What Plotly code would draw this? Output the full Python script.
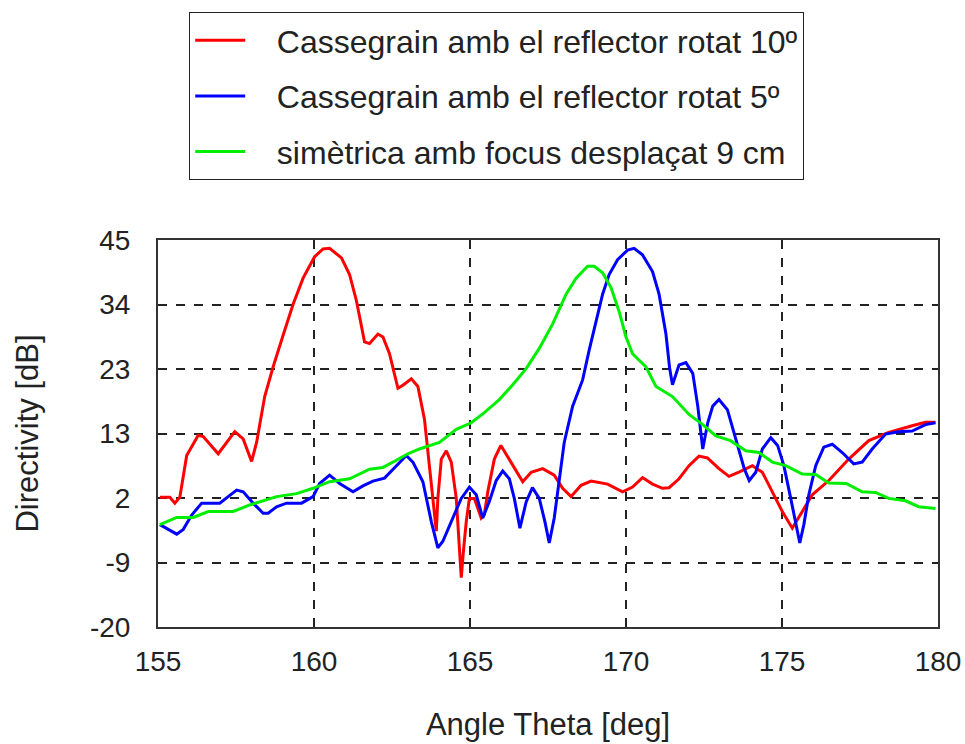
import plotly.graph_objects as go

# ---------------- data ----------------
red_x = [155.06, 155.38, 155.54, 155.7, 155.92, 156.29, 156.45, 156.93, 157.46, 157.73, 158.0, 158.16,
         158.42, 158.69, 159.01, 159.33, 159.65, 160.02, 160.29, 160.5, 160.88, 161.14, 161.36, 161.62,
         161.78, 162.05, 162.21, 162.42, 162.69, 162.85, 163.12, 163.33, 163.54, 163.7, 163.81, 163.92,
         163.97, 164.08, 164.24, 164.4, 164.56, 164.66, 164.72, 164.79, 164.88, 164.98, 165.14, 165.36,
         165.46, 165.57, 165.78, 165.99, 166.26, 166.69, 166.96, 167.33, 167.7, 167.97, 168.24, 168.56,
         168.88, 169.41, 169.89, 170.21, 170.53, 170.85, 171.17, 171.38, 171.7, 172.02, 172.34, 172.61,
         172.98, 173.3, 173.62, 174.05, 174.37, 174.69, 175.01, 175.33, 175.65, 175.97, 176.5, 177.14,
         177.78, 178.42, 179.17, 179.6, 179.92]
red_y = [1.8, 1.8, 0.8, 1.8, 8.8, 12.2, 12.0, 9.1, 12.8, 11.6, 7.8, 11.0,
         18.7, 23.7, 29.0, 34.2, 38.6, 42.2, 43.5, 43.6, 42.0, 39.2, 34.8, 27.9,
         27.6, 29.2, 28.7, 25.9, 20.1, 20.6, 21.7, 20.4, 14.9, 7.1, 1.6, -3.9,
         1.6, 8.2, 9.6, 7.7, 1.6, -6.7, -11.7, -7.2, -2.3, 1.6, 1.6, -1.7,
         -1.1, 2.7, 8.2, 10.5, 8.2, 4.4, 6.0, 6.6, 5.5, 3.3, 1.9, 3.8,
         4.5, 4.0, 2.7, 3.5, 5.1, 4.0, 3.3, 3.4, 4.9, 7.1, 8.7, 8.4,
         6.6, 5.3, 6.0, 7.1, 6.0, 2.7, -0.6, -3.4, -0.6, 2.2, 4.6, 8.2,
         11.3, 12.7, 13.8, 14.4, 14.4]

blue_x = [155.06, 155.6, 155.81, 156.08, 156.4, 156.98, 157.25, 157.52, 157.73, 158.05, 158.37, 158.53,
          158.8, 159.12, 159.6, 159.97, 160.18, 160.5, 160.82, 161.25, 161.57, 161.89, 162.26, 162.64,
          162.96, 163.17, 163.49, 163.76, 163.97, 164.13, 164.45, 164.72, 164.98, 165.2, 165.41, 165.62,
          165.84, 166.05, 166.26, 166.42, 166.6, 166.8, 167.0, 167.22, 167.4, 167.54, 167.7, 167.86,
          168.02, 168.29, 168.61, 168.82, 169.04, 169.25, 169.46, 169.73, 170.05, 170.26, 170.53, 170.85,
          171.06, 171.28, 171.4, 171.49, 171.7, 171.92, 172.14, 172.3, 172.46, 172.62, 172.78, 172.98,
          173.25, 173.52, 173.79, 173.95, 174.16, 174.37, 174.64, 174.86, 175.06, 175.28, 175.44, 175.57,
          175.7, 175.86, 176.08, 176.34, 176.61, 176.93, 177.3, 177.57, 177.89, 178.32, 178.74, 179.17,
          179.6, 179.92]
blue_y = [-2.8, -4.4, -3.6, -1.2, 0.8, 0.8, 1.9, 3.0, 2.7, 0.8, -0.9, -0.9,
          0.2, 0.8, 0.8, 1.9, 4.1, 5.5, 4.1, 2.7, 3.7, 4.5, 5.0, 7.1,
          8.8, 7.7, 4.4, -2.3, -6.7, -5.6, -1.7, 1.6, 3.5, 2.2, -1.7, 1.1,
          4.6, 6.2, 4.9, 1.6, -3.4, 1.0, 3.4, 1.6, -2.3, -5.9, -1.7, 4.9,
          11.0, 17.1, 21.5, 26.5, 31.5, 35.9, 39.2, 41.7, 43.3, 43.6, 42.5, 39.7,
          35.9, 29.2, 23.4, 20.7, 24.0, 24.4, 22.6, 17.1, 9.9, 14.3, 17.1, 18.2,
          16.5, 11.5, 6.6, 4.6, 6.0, 9.9, 11.8, 10.5, 7.1, 1.6, -2.8, -5.9,
          -2.8, 2.2, 7.1, 10.2, 10.7, 9.3, 7.4, 7.7, 9.9, 12.4, 12.8, 12.9,
          14.0, 14.3]

green_x = [155.06, 155.6, 156.13, 156.61, 157.04, 157.41, 157.94, 158.37, 158.8, 159.44, 159.97, 160.5,
           161.14, 161.78, 162.21, 162.64, 163.01, 163.38, 164.02, 164.56, 165.04, 165.46, 165.94, 166.37,
           166.8, 167.22, 167.65, 168.08, 168.4, 168.77, 168.98, 169.25, 169.52, 169.79, 170.0, 170.21,
           170.64, 170.96, 171.28, 171.49, 172.02, 172.46, 172.88, 173.35, 173.84, 174.26, 174.69, 175.12,
           175.65, 176.08, 176.5, 177.06, 177.57, 178.0, 178.42, 178.96, 179.38, 179.92]
green_y = [-2.8, -1.6, -1.6, -0.6, -0.6, -0.6, 0.5, 1.2, 1.9, 2.4, 3.3, 4.4,
           4.9, 6.5, 6.8, 8.0, 9.1, 9.9, 11.0, 13.2, 14.3, 16.0, 18.2, 20.7,
           23.4, 26.8, 30.9, 35.9, 38.6, 40.6, 40.6, 39.5, 37.0, 32.8, 28.7, 25.9,
           23.7, 20.4, 19.3, 18.7, 15.7, 14.0, 12.1, 11.3, 9.6, 9.3, 7.7, 7.1,
           5.7, 5.6, 4.2, 4.1, 2.7, 2.6, 1.6, 1.2, 0.2, -0.1]

series_names = ["Cassegrain amb el reflector rotat 10º",
                "Cassegrain amb el reflector rotat 5º",
                "simètrica amb focus desplaçat 9 cm"]
series_colors = ["#ff0000", "#0000ff", "#00ee00"]

y_tick_vals = [-20, -9.1667, 1.6667, 12.5, 23.3333, 34.1667, 45]
y_tick_text = ["-20", "-9", "2", "13", "23", "34", "45"]
x_tick_vals = [155, 160, 165, 170, 175, 180]

# ---------------- figure ----------------
FONT = "Liberation Sans, Arial, sans-serif"
TXT = "#222222"
PAD = "\u00a0\u00a0\u00a0"
fig = go.Figure()
for i, (xs, ys) in enumerate([(red_x, red_y), (blue_x, blue_y), (green_x, green_y)]):
    fig.add_trace(go.Scatter(x=xs, y=ys, mode="lines", name=PAD + series_names[i],
                             legendgroup=f"g{i}",
                             line=dict(color=series_colors[i], width=3)))

fig.update_layout(
    width=965, height=744,
    margin=dict(l=158, r=27, t=235, b=117),
    paper_bgcolor="white", plot_bgcolor="white",
    font=dict(family=FONT, size=28, color=TXT),
    showlegend=True,
    legend=dict(x=0.04, y=1.589, xanchor="left", yanchor="top",
                bgcolor="white", bordercolor=TXT, borderwidth=1,
                font=dict(family=FONT, size=32, color=TXT),
                tracegroupgap=11, itemwidth=50),
    xaxis=dict(range=[155, 180], tickvals=x_tick_vals, automargin=False,
               showgrid=True, gridcolor="#222222", gridwidth=2, griddash="dash",
               showline=True, linecolor="#333333", linewidth=2, mirror=True,
               ticks="", zeroline=False, ticklabelstandoff=8,
               tickfont=dict(family=FONT, size=28, color=TXT),
               title=dict(text="Angle Theta [deg]", standoff=38,
                          font=dict(family=FONT, size=31, color=TXT))),
    yaxis=dict(range=[-20, 45], tickvals=y_tick_vals, ticktext=y_tick_text, automargin=False,
               showgrid=True, gridcolor="#222222", gridwidth=2, griddash="dash",
               showline=True, linecolor="#333333", linewidth=2, mirror=True,
               ticks="", zeroline=False, ticklabelstandoff=20,
               tickfont=dict(family=FONT, size=28, color=TXT),
               title=dict(text="Directivity [dB]", standoff=42,
                          font=dict(family=FONT, size=31, color=TXT))),
)

fig.write_html("out.html", config={"displayModeBar": False},
               post_script="document.body.style.margin='0';document.body.style.overflow='hidden';")
